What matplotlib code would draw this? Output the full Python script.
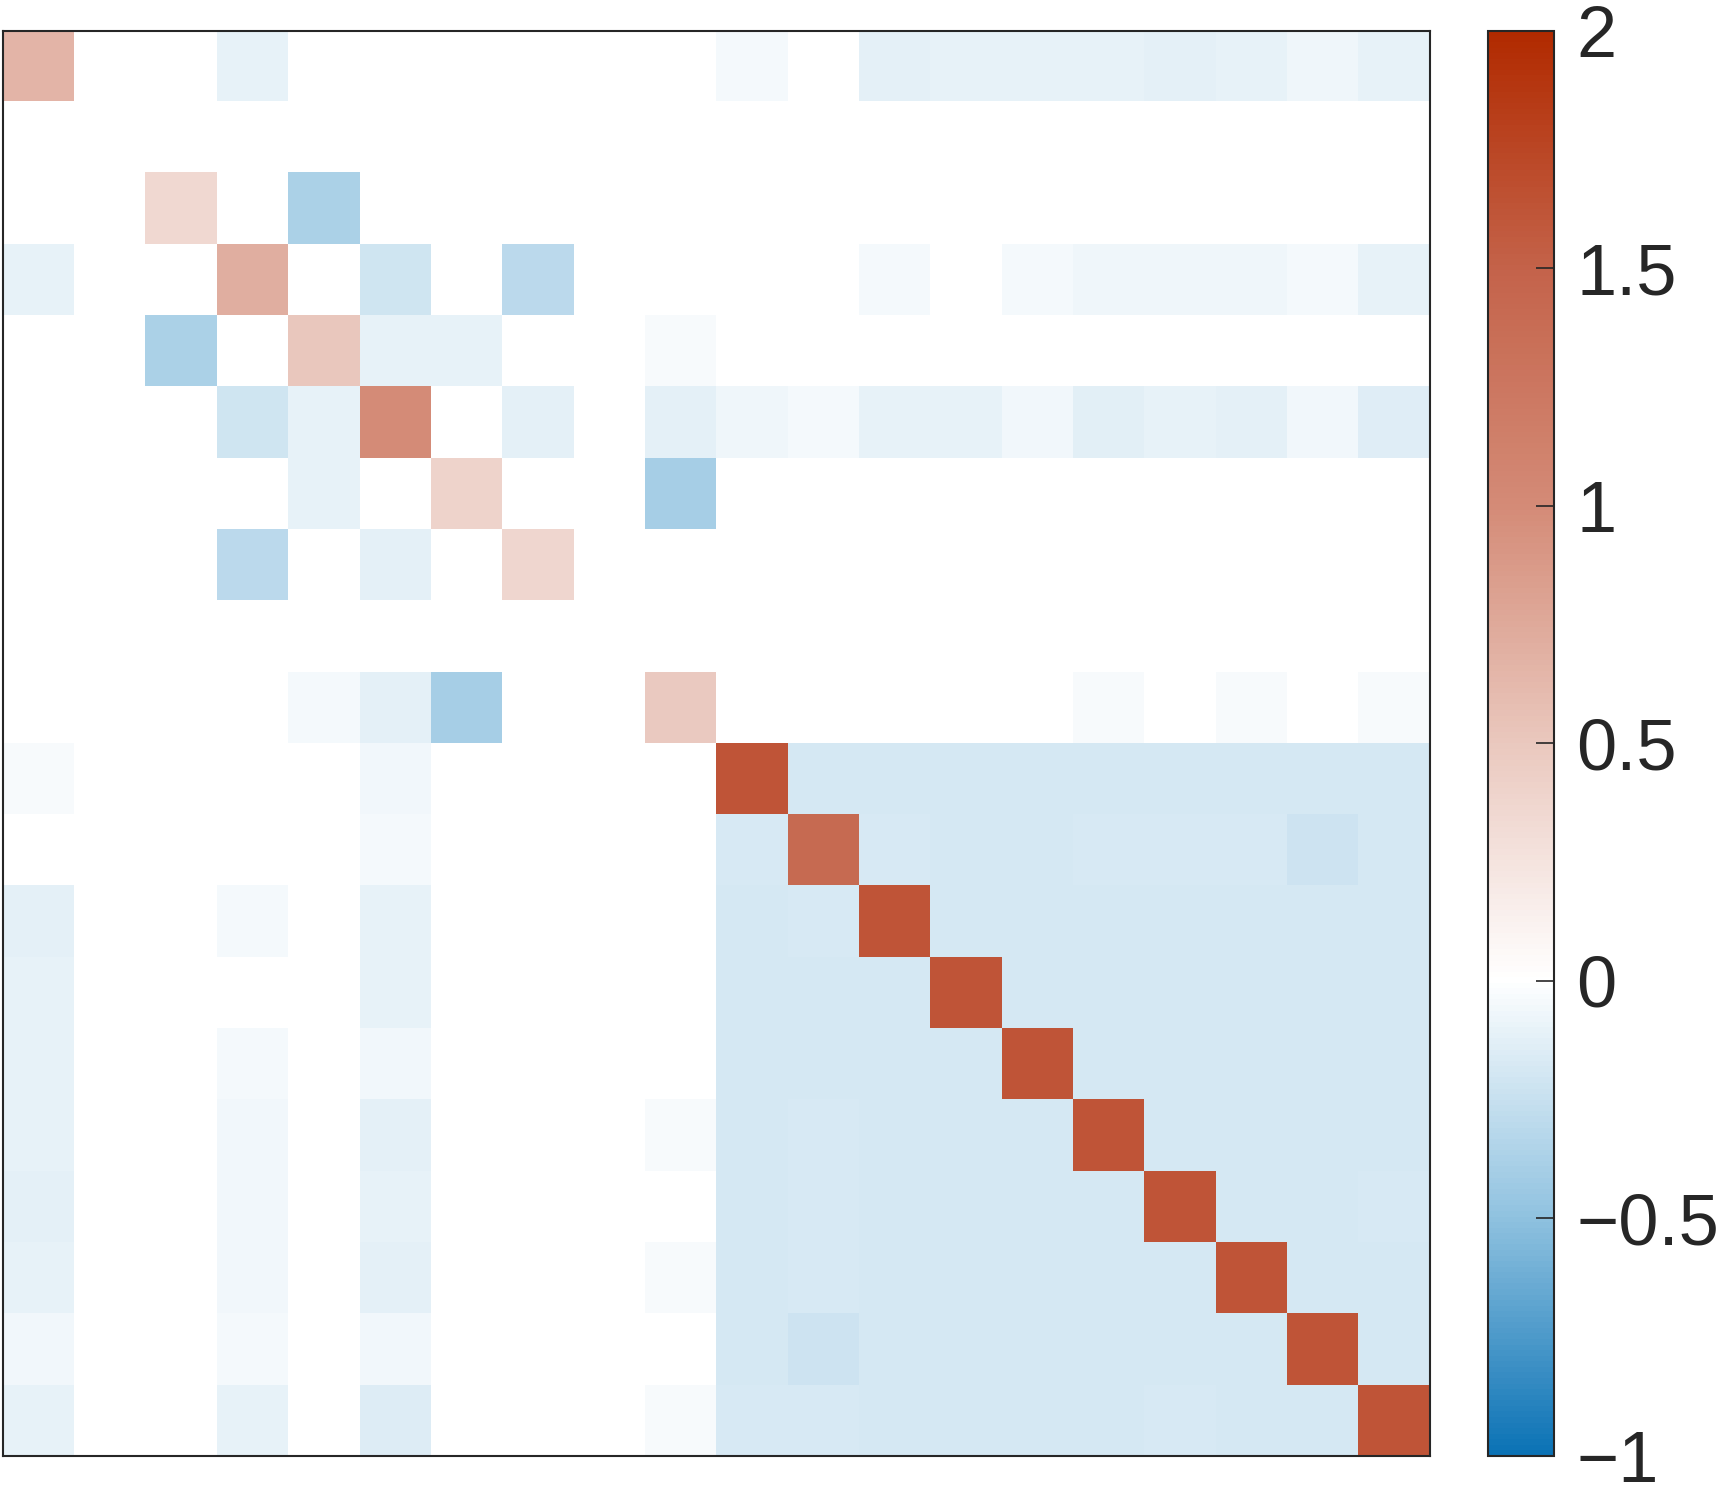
import numpy as np
import matplotlib
matplotlib.use("Agg")
import matplotlib.pyplot as plt
from matplotlib.colors import LinearSegmentedColormap

# matrix values, row 0 at top
r0 = [0.66, 0, 0, -0.10, 0, 0, 0, 0, 0, 0, -0.04, 0, -0.12, -0.10, -0.10, -0.10, -0.12, -0.10, -0.07, -0.10]
r1 = [0] * 20
r2 = [0, 0, 0.35, 0, -0.37, 0, 0, 0, 0, 0, 0, 0, 0, 0, 0, 0, 0, 0, 0, 0]
r3 = [-0.10, 0, 0, 0.70, 0, -0.21, 0, -0.30, 0, 0, 0, 0, -0.04, 0, -0.04, -0.07, -0.07, -0.07, -0.04, -0.10]
r4 = [0, 0, -0.37, 0, 0.50, -0.10, -0.10, 0, 0, -0.03, 0, 0, 0, 0, 0, 0, 0, 0, 0, 0]
r5 = [0, 0, 0, -0.21, -0.10, 1.00, 0, -0.11, 0, -0.12, -0.07, -0.04, -0.10, -0.10, -0.06, -0.13, -0.10, -0.12, -0.06, -0.14]
r6 = [0, 0, 0, 0, -0.10, 0, 0.40, 0, 0, -0.40, 0, 0, 0, 0, 0, 0, 0, 0, 0, 0]
r7 = [0, 0, 0, -0.30, 0, -0.11, 0, 0.37, 0, 0, 0, 0, 0, 0, 0, 0, 0, 0, 0, 0]
r8 = [0] * 20
r9 = [0, 0, 0, 0, -0.04, -0.12, -0.40, 0, 0, 0.48, 0, 0, 0, 0, 0, -0.03, 0, -0.03, 0, -0.03]
r10 = [-0.03, 0, 0, 0, 0, -0.06, 0, 0, 0, 0, 1.62, -0.18, -0.19, -0.19, -0.19, -0.19, -0.19, -0.19, -0.19, -0.18]
r11 = [0, 0, 0, 0, 0, -0.04, 0, 0, 0, 0, -0.17, 1.41, -0.17, -0.19, -0.19, -0.17, -0.17, -0.17, -0.22, -0.19]
r12 = [-0.12, 0, 0, -0.04, 0, -0.10, 0, 0, 0, 0, -0.19, -0.17, 1.62, -0.19, -0.19, -0.19, -0.19, -0.19, -0.19, -0.19]
r13 = [-0.10, 0, 0, 0, 0, -0.10, 0, 0, 0, 0, -0.19, -0.19, -0.19, 1.62, -0.19, -0.19, -0.19, -0.19, -0.19, -0.19]
r14 = [-0.10, 0, 0, -0.04, 0, -0.06, 0, 0, 0, 0, -0.19, -0.19, -0.19, -0.19, 1.62, -0.19, -0.19, -0.19, -0.19, -0.19]
r15 = [-0.10, 0, 0, -0.06, 0, -0.12, 0, 0, 0, -0.03, -0.19, -0.17, -0.19, -0.19, -0.19, 1.62, -0.19, -0.19, -0.19, -0.19]
r16 = [-0.12, 0, 0, -0.06, 0, -0.10, 0, 0, 0, 0, -0.19, -0.17, -0.19, -0.19, -0.19, -0.19, 1.62, -0.19, -0.19, -0.17]
r17 = [-0.10, 0, 0, -0.06, 0, -0.12, 0, 0, 0, -0.03, -0.19, -0.17, -0.19, -0.19, -0.19, -0.19, -0.19, 1.62, -0.19, -0.19]
r18 = [-0.06, 0, 0, -0.04, 0, -0.06, 0, 0, 0, 0, -0.19, -0.22, -0.19, -0.19, -0.19, -0.19, -0.19, -0.19, 1.62, -0.19]
r19 = [-0.10, 0, 0, -0.10, 0, -0.15, 0, 0, 0, -0.03, -0.17, -0.17, -0.19, -0.19, -0.19, -0.19, -0.17, -0.19, -0.19, 1.62]

M = np.array([r0, r1, r2, r3, r4, r5, r6, r7, r8, r9,
              r10, r11, r12, r13, r14, r15, r16, r17, r18, r19])

cbar_ticks = [-1, -0.5, 0, 0.5, 1, 1.5, 2]
cbar_labels = ["\u22121", "\u22120.5", "0", "0.5", "1", "1.5", "2"]

# diverging map, white at 0 on a -1..2 range
vmin, vmax = -1, 2
nodes = [(-1, "#0b72b5"), (-0.5, "#90c2e0"), (0, "#ffffff"), (0.5, "#eac8be"),
         (1, "#d48b77"), (1.5, "#c4634a"), (2, "#b12a00")]
cmap = LinearSegmentedColormap.from_list(
    "bwr_asym", [((v - vmin) / (vmax - vmin), c) for v, c in nodes])

plt.rcParams['font.family'] = ['Liberation Sans', 'DejaVu Sans']

fig = plt.figure(figsize=(17.27, 14.91), dpi=100)
ax = fig.add_axes([0.0019, 0.0235, 0.8259, 0.9558])
im = ax.imshow(M, cmap=cmap, vmin=vmin, vmax=vmax, aspect='auto', interpolation='nearest')
ax.set_xticks([])
ax.set_yticks([])
for s in ax.spines.values():
    s.set_color('#262626')
    s.set_linewidth(1.5)

cax = fig.add_axes([0.8616, 0.0235, 0.0382, 0.9558])
cb = fig.colorbar(im, cax=cax, ticks=cbar_ticks)
cb.ax.set_yticklabels(cbar_labels)
cb.outline.set_edgecolor('#262626')
cb.outline.set_linewidth(1.5)
cb.ax.tick_params(direction='in', length=13, width=1.2, color='#262626',
                  labelsize=52, labelcolor='#262626', pad=16)

fig.savefig("out.png", dpi=100)
